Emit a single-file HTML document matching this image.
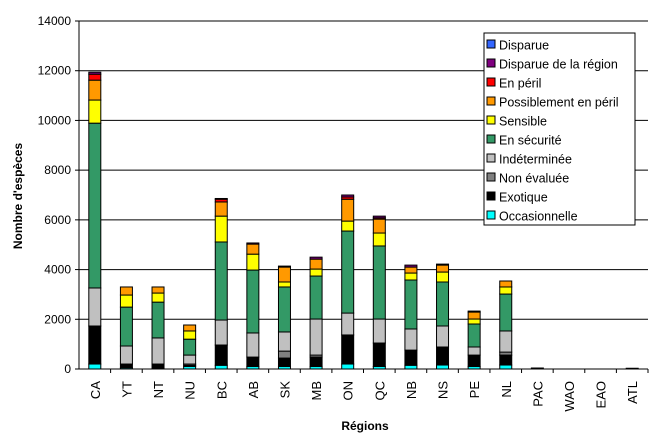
<!DOCTYPE html>
<html><head><meta charset="utf-8">
<style>
body{margin:0;background:#fff;}
svg{display:block;font-family:"Liberation Sans",Arial,sans-serif;}
</style></head>
<body>
<svg id="chart" width="654" height="440" viewBox="0 0 654 440"></svg>
<script>
const categories=["CA","YT","NT","NU","BC","AB","SK","MB","ON","QC","NB","NS","PE","NL","PAC","WAO","EAO","ATL"];
const seriesNames=["Occasionnelle","Exotique","Non évaluée","Indéterminée","En sécurité","Sensible","Possiblement en péril","En péril","Disparue de la région","Disparue"];
const seriesColors=["#00ffff","#000000","#808080","#c0c0c0","#339966","#ffff00","#ff9900","#ff0000","#800080","#3366ff"];
const occasionnelle=[200,50,0,100,150,100,100,100,200,100,150,160,100,160,0,0,0,0];
const exotique=[1530,150,200,50,815,380,340,380,1170,945,610,725,460,400,0,0,0,0];
const nonEvaluee=[0,0,0,50,0,0,280,80,0,0,0,0,0,120,0,0,0,0];
const indeterminee=[1530,725,1050,360,1005,970,770,1450,880,965,850,845,325,850,0,0,0,0];
const enSecurite=[6630,1565,1440,640,3140,2530,1810,1730,3300,2940,1970,1770,925,1485,40,0,0,30];
const sensible=[930,485,365,330,1040,640,200,280,400,520,280,400,200,285,0,0,0,0];
const possiblement=[800,325,245,240,570,405,600,400,880,560,240,280,280,240,0,0,0,0];
const enPeril=[240,0,0,0,110,0,0,0,90,50,0,0,0,0,0,0,0,0];
const disparueRegion=[80,0,0,0,30,45,40,80,80,70,80,40,40,0,0,0,0,0];
const disparue=[0,0,0,0,0,0,0,0,0,0,0,0,0,0,0,0,0,0];
const yTicks=[0,2000,4000,6000,8000,10000,12000,14000];
const series=[occasionnelle,exotique,nonEvaluee,indeterminee,enSecurite,sensible,possiblement,enPeril,disparueRegion,disparue];

const NS="http://www.w3.org/2000/svg";
const svg=document.getElementById('chart');
const X0=79,X1=648,Y0=369,Y1=21,YMAX=14000;
const step=(X1-X0)/categories.length;
const yScale=v=>Y0-(v/YMAX)*(Y0-Y1);
const xCenter=i=>X0+step*(i+0.5);
function mk(t,a){const e=document.createElementNS(NS,t);for(const k in a)e.setAttribute(k,a[k]);svg.appendChild(e);return e;}

yTicks.forEach(t=>{
  const y=yScale(t);
  if(t>0){const g=mk('line',{x1:X0,x2:X1,y1:y,y2:y,stroke:'#000','stroke-width':1});
  
  }
  const tk=mk('line',{x1:X0-4,x2:X0,y1:y,y2:y,stroke:'#000'});
  
  
  const tx=mk('text',{x:X0-8,y:y+4,'text-anchor':'end','font-size':12});
  tx.textContent=t;
  
  
});
categories.forEach((c,i)=>{
  let cum=0;
  const cx=xCenter(i),w=12;
  series.forEach((s,k)=>{
    const v=s[i];if(!v)return;
    const yTop=yScale(cum+v),yBot=yScale(cum);
    const r=mk('rect',{x:cx-w/2,y:yTop,width:w,height:Math.max(yBot-yTop,0.5),fill:seriesColors[k],stroke:'#000','stroke-width':1});
    
    
    cum+=v;
  });
  const tk=mk('line',{x1:X0+step*(i+1),x2:X0+step*(i+1),y1:Y0,y2:Y0+4,stroke:'#000'});
  
  
  const lb=mk('text',{x:0,y:0,'text-anchor':'end','font-size':13,transform:`translate(${cx+5},381) rotate(-90)`});
  lb.textContent=c;
  
  
});
const ya=mk('line',{x1:X0,x2:X0,y1:Y1,y2:Y0,stroke:'#000'});


const xa=mk('line',{x1:X0-4,x2:X1,y1:Y0,y2:Y0,stroke:'#000'});


const yt=mk('text',{x:0,y:0,'text-anchor':'middle','font-size':12,'font-weight':'bold',transform:'translate(22,196) rotate(-90)'});
yt.textContent="Nombre d'espèces";


const xt=mk('text',{x:365,y:430,'text-anchor':'middle','font-size':12,'font-weight':'bold'});
xt.textContent="Régions";


const lg=mk('rect',{x:484,y:33,width:151,height:192,fill:'#fff',stroke:'#000'});


for(let k=seriesNames.length-1,j=0;k>=0;k--,j++){
  const y=45+j*19;
  const sw=mk('rect',{x:487,y:y-5,width:8,height:8,fill:seriesColors[k],stroke:'#000'});
  
  
  const t=mk('text',{x:499,y:y+4.5,'font-size':12.5});
  t.textContent=seriesNames[k];
  
  
}
</script>
</body></html>
